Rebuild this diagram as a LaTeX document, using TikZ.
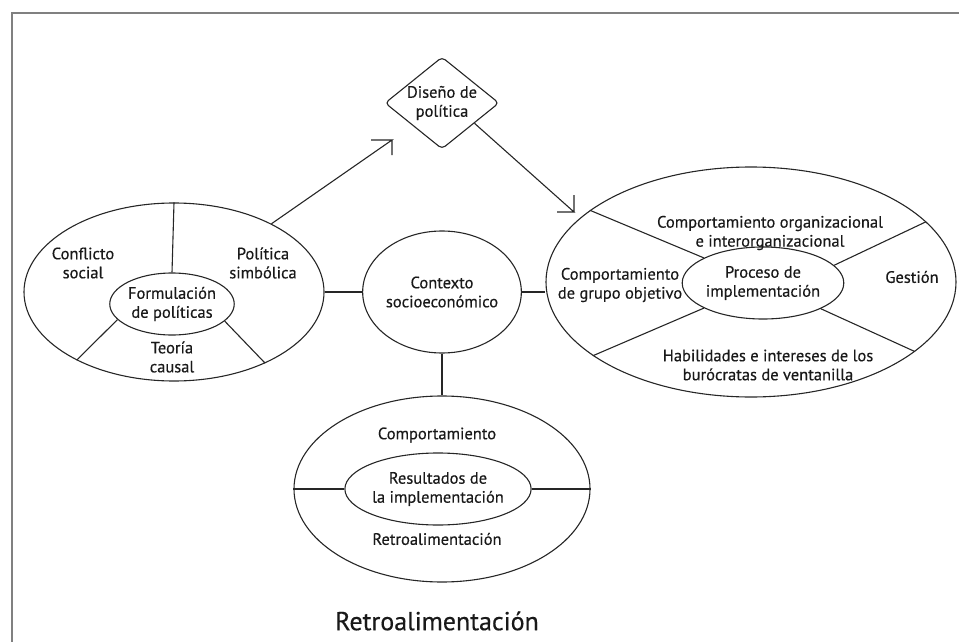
\documentclass[tikz,border=0pt]{standalone}
\usepackage{fontspec}
\setmainfont{PT Sans}[FakeBold=0.4]
\usetikzlibrary{shapes.geometric}
\begin{document}
\begin{tikzpicture}[x=1pt,y=-1pt,
  ink/.style={draw=black!85, line width=1.1pt},
  ring/.style={ink, ellipse, inner sep=0pt},
  txt/.style={font=\fontsize{16.5}{19}\selectfont, align=center, inner sep=0pt, text=black!90},
]
\useasboundingbox (0,0) rectangle (959,642);
% page frame
\draw[draw=gray, line width=2pt] (11.5,642) -- (11.5,13) -- (959,13);

% policy formulation cluster
\node[ring, minimum width=300pt, minimum height=178pt] (L) at (174,292) {};
\node[ring, txt, minimum width=114pt, minimum height=62pt] (Li) at (172,304) {Formulación\\de políticas};
\draw[ink] (L.90) -- (Li.90);
\draw[ink] (Li.196) -- (L.215);
\draw[ink] (Li.342) -- (L.322);
\node[txt] (l1) at (83,263) {Conflicto\\social};
\node[txt] (l2) at (263,263) {Política\\simbólica};
\node[txt] (l3) at (172,357) {Teoría\\causal};

% policy design
\node[ink, txt, diamond, aspect=1.24, rounded corners=4pt, minimum width=114pt, minimum height=92pt] (D) at (442,103) {Diseño de\\política};
\coordinate (a1) at (392,140);
\coordinate (a2) at (574,212);
\draw[ink] (L.35) -- (a1) -- ++(-21,0) (a1) -- ++(0,15);
\draw[ink] (D.-32) -- (a2) -- ++(-17,0) (a2) -- ++(0,-17);

% socio-economic context
\node[ring, txt, minimum width=137pt, minimum height=122pt] (C) at (442,292) {Contexto\\socioeconómico};

% implementation process cluster
\node[ring, minimum width=410pt, minimum height=230pt] (R) at (751,282) {};
\node[ring, txt, minimum width=140pt, minimum height=72pt] (Ri) at (763,283) {Proceso de\\implementación};
\draw[ink] (R.156) -- (Ri.157);
\draw[ink] (Ri.14) -- (R.19);
\draw[ink] (Ri.203) -- (R.205);
\draw[ink] (Ri.336) -- (R.337);
\node[txt] (r1) at (770,233) {Comportamiento organizacional\\e interorganizacional};
\node[txt] (r2) at (620,285) {Comportamiento\\de grupo objetivo};
\node[txt] (r3) at (912,277) {Gestión};
\node[txt] (r4) at (768,365) {Habilidades e intereses de los\\burócratas de ventanilla};

% implementation results cluster
\node[ring, minimum width=296pt, minimum height=186pt] (B) at (442,489) {};
\node[ring, txt, minimum width=160pt, minimum height=72pt] (Bi) at (438,489) {Resultados de\\la implementación};
\draw[ink] (B.180) -- (Bi.180);
\draw[ink] (Bi.0) -- (B.0);
\node[txt] (b1) at (437,435) {Comportamiento};
\node[txt] (b2) at (437,539) {Retroalimentación};

% links to the context
\draw[ink] (L.0) -- (C.180);
\draw[ink] (C.0) -- (C.0 -| R.west);
\draw[ink] (C.270) -- (B.90);

\node[font=\fontsize{26}{30}\selectfont, inner sep=0pt, text=black!90] (fb) at (437,621) {Retroalimentación};
\end{tikzpicture}
\end{document}
